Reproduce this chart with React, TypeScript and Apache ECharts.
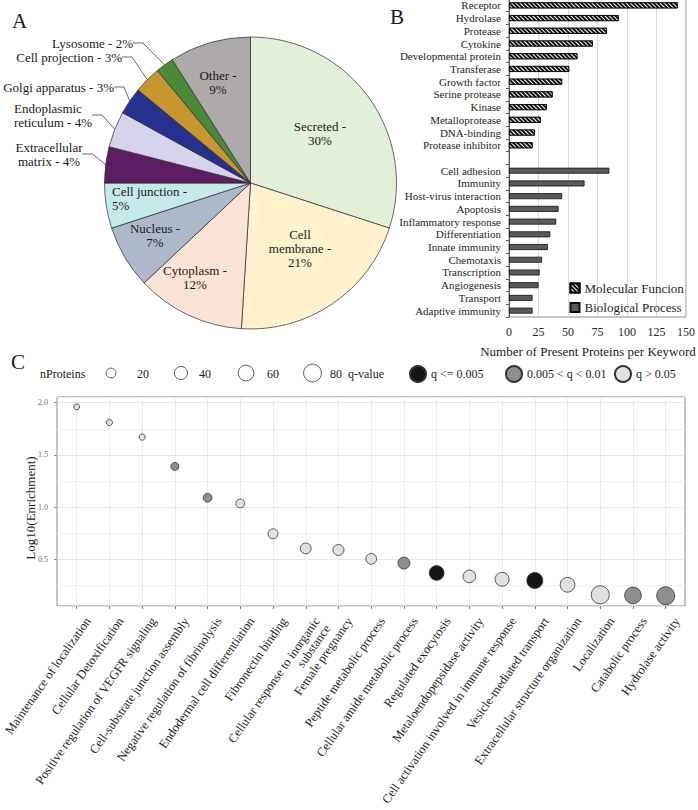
import React, { useEffect, useRef } from "react";
import * as echarts from "echarts";

const SERIF = "Liberation Serif, Times New Roman, serif";

// ---------- Panel A: subcellular location ----------
const LOCATIONS = [
  "Secreted", "Cell membrane", "Cytoplasm", "Nucleus", "Cell junction",
  "Extracellular matrix", "Endoplasmic reticulum", "Golgi apparatus",
  "Cell projection", "Lysosome", "Other",
];
const LOCATION_PCT = [30, 21, 12, 7, 5, 4, 4, 3, 3, 2, 9];
const LOCATION_LABEL = [
  "Secreted -\n{v}%", "Cell\nmembrane -\n{v}%", "Cytoplasm -\n{v}%", "Nucleus -\n{v}%",
  "Cell junction -\n{v}%", "Extracellular\nmatrix - {v}%", "Endoplasmic\nreticulum - {v}%",
  "Golgi apparatus - {v}%", "Cell projection - {v}%", "Lysosome - {v}%", "Other -\n{v}%",
];
const LOCATION_COLORS = [
  "#e2efd9", "#fff2cc", "#fbe4d5", "#adb9ca", "#c6e9ec",
  "#5e1d62", "#d6d3ec", "#26318f", "#c8962e", "#4b8a3b", "#aeaaaa",
];
const LABEL_INSIDE = [true, true, true, true, true, false, false, false, false, false, true];
// label anchor [x, y, align]
const LABEL_ANCHOR: [number, number, string][] = [
  [320, 133, "center"], [300, 248, "center"], [195, 277, "center"], [155, 235, "center"],
  [112, 198, "left"], [49, 154, "center"], [14, 115, "left"], [114, 87, "right"],
  [122, 57, "right"], [133, 43, "right"], [218, 82, "center"],
];

// ---------- Panel B: keywords ----------
const MF_KEYWORDS = [
  "Receptor", "Hydrolase", "Protease", "Cytokine", "Developmental protein", "Transferase",
  "Growth factor", "Serine protease", "Kinase", "Metalloprotease", "DNA-binding", "Protease inhibitor",
];
const MF_COUNTS = [143, 93, 83, 71, 58, 51, 45, 37, 32, 27, 22, 20];
const BP_KEYWORDS = [
  "Cell adhesion", "Immunity", "Host-virus interaction", "Apoptosis", "Inflammatory response",
  "Differentiation", "Innate immunity", "Chemotaxis", "Transcription", "Angiogenesis",
  "Transport", "Adaptive immunity",
];
const BP_COUNTS = [85, 64, 45, 42, 40, 35, 33, 28, 26, 25, 20, 20];

// ---------- Panel C: enrichment ----------
const TERMS = [
  "Maintenance of localization", "Cellular Detoxification", "Positive regulation of VEGFR signaling",
  "Cell-substrate junction assembly", "Negative regulation of fibrinolysis",
  "Endodermal cell differentiation", "Fibronectin binding",
  "Cellular response to inorganic\nsubstance", "Female pregnancy", "Peptide metabolic process",
  "Cellular amide metabolic process", "Regulated exocytosis", "Metaloendopepsidase activity",
  "Cell activation involved in immune response", "Vesicle-mediated transport",
  "Extracellular structure organization", "Localization", "Catabolic process", "Hydrolase activity",
];
const LOG10_ENRICHMENT = [1.96, 1.81, 1.67, 1.39, 1.09, 1.035, 0.745, 0.605, 0.59, 0.505, 0.465, 0.37, 0.337, 0.31, 0.298, 0.257, 0.161, 0.155, 0.152];
const N_PROTEINS = [5, 6, 6, 12, 15, 15, 21, 25, 26, 25, 32, 52, 37, 46, 63, 52, 82, 69, 82];
const Q_CLASS = [2, 2, 2, 1, 1, 2, 2, 2, 2, 2, 1, 0, 2, 2, 0, 2, 2, 1, 1];
const Q_LABELS = ["q <= 0.005", "0.005 < q < 0.01", "q > 0.05"];
const Q_COLORS = ["#151515", "#8e8e8e", "#e1e1e1"];
const SIZE_BREAKS = [20, 40, 60, 80];
const MINOR_GRID = [0.25, 0.75, 1.25, 1.75];

const sizeOf = (n: number) => 1.8 + 1.79 * Math.sqrt(n);

function buildOption() {
  const pieData = LOCATIONS.map((name, i) => ({
    name,
    value: LOCATION_PCT[i],
    itemStyle: { color: LOCATION_COLORS[i] },
    label: { position: LABEL_INSIDE[i] ? "inside" : "outside" },
    labelLine: { show: !LABEL_INSIDE[i] },
  }));

  const categoriesB = [...MF_KEYWORDS, "", ...BP_KEYWORDS];
  const blanks = (n: number) => new Array(n).fill(null);
  const mfData = [...MF_COUNTS, ...blanks(1 + BP_COUNTS.length)];
  const bpData = [...blanks(MF_COUNTS.length + 1), ...BP_COUNTS];

  const sizeLegendX = [111, 181, 246, 312.5];
  const sizeLabelX = [137, 199, 267, 330];
  const qLegendLeft = [409, 505, 614];

  const txt = (text: string, x: number, y: number, fontSize: number, extra: any = {}) => ({
    type: "text", x, y, ...extra,
    style: { text, fontSize, fontFamily: SERIF, fill: "#1a1a1a", verticalAlign: "middle", ...(extra.style || {}) },
  });

  const graphic: any[] = [
    txt("A", 12, 21, 21),
    txt("B", 390, 17, 21),
    txt("C", 11, 362, 21),
    txt("Number of Present Proteins per Keyword", 588, 351, 13, { style: { align: "center" } }),
    txt("Log10(Enrichment)", 30, 508, 13, { rotation: Math.PI / 2, style: { align: "center" } }),
    txt("nProteins", 40, 374, 12),
    txt("q-value", 348, 374, 12),
  ];
  SIZE_BREAKS.forEach((n, i) => {
    graphic.push({ type: "circle", shape: { cx: sizeLegendX[i], cy: 373, r: sizeOf(n) / 2 }, style: { fill: "#fff", stroke: "#333", lineWidth: 0.8 } });
    graphic.push(txt(String(n), sizeLabelX[i], 374, 12));
  });

  const scatterSeries = Q_LABELS.map((label, q) => ({
    type: "scatter",
    name: label,
    xAxisIndex: 2,
    yAxisIndex: 2,
    symbol: "circle",
    symbolSize: (v: number[]) => sizeOf(v[2]),
    itemStyle: { color: Q_COLORS[q], borderColor: "#333", borderWidth: 0.8, opacity: 1 },
    data: TERMS.map((t, i) => (Q_CLASS[i] === q ? [i, LOG10_ENRICHMENT[i], N_PROTEINS[i]] : null)).filter((d) => d !== null),
    z: 5,
  }));

  const noBounds = { outerBoundsMode: "none", containLabel: false };

  return {
    animation: false,
    backgroundColor: "#fff",
    textStyle: { fontFamily: SERIF },
    grid: [
      { left: 509, right: 12, top: -1, height: 318, show: true, borderColor: "#8c8c8c", borderWidth: 1, ...noBounds },
      { left: 57, right: 13, top: 397, height: 209, show: true, borderColor: "#8a8a8a", borderWidth: 1, ...noBounds },
      { left: 76.7, right: 32.3, top: 397, height: 209, ...noBounds },
      // label carrier for the rotated term names (shifted as ggplot's hjust/vjust does)
      { left: 82.7, right: 26.3, top: 397, height: 209, ...noBounds },
    ],
    xAxis: [
      {
        type: "value", gridIndex: 0, min: 0, max: 150, interval: 25,
        axisLine: { show: false }, axisTick: { show: false },
        axisLabel: { fontSize: 12, color: "#262626", margin: 9, fontFamily: SERIF },
        splitLine: { show: true, lineStyle: { color: "#d9d9d9", width: 1 } },
      },
      { type: "value", gridIndex: 1, min: 0, max: 1, show: false },
      {
        type: "category", gridIndex: 2, data: TERMS, boundaryGap: false,
        axisLine: { show: false },
        axisTick: { show: true, length: 3, lineStyle: { color: "#7a7a7a" }, interval: 0 },
        axisLabel: { show: false },
        splitLine: { show: true, interval: 0, lineStyle: { color: "#ebebeb", width: 1 } },
      },
      {
        type: "category", gridIndex: 3, data: TERMS, boundaryGap: false,
        axisLine: { show: false }, axisTick: { show: false }, splitLine: { show: false },
        axisLabel: {
          interval: 0, rotate: 55, align: "right", verticalAlign: "top", margin: 9,
          fontSize: 12.5, lineHeight: 13, color: "#1e1e1e", fontFamily: SERIF,
        },
      },
    ],
    yAxis: [
      {
        type: "category", gridIndex: 0, data: categoriesB, inverse: true,
        axisLine: { show: true, lineStyle: { color: "#595959", width: 1 } },
        axisTick: { show: true, length: 3, lineStyle: { color: "#595959" } },
        axisLabel: { fontSize: 11, color: "#1e1e1e", margin: 8, interval: 0, fontFamily: SERIF },
        splitLine: { show: false },
      },
      {
        type: "value", gridIndex: 1, min: 0.054, max: 2.054, splitNumber: 4,
        axisLine: { show: false },
        axisTick: { show: true, length: 3, lineStyle: { color: "#8a8a8a" } },
        axisLabel: {
          fontSize: 8, color: "#6b6b6b", margin: 9, showMinLabel: false, showMaxLabel: false,
          formatter: (v: number) => v.toFixed(1), fontFamily: SERIF,
        },
        splitLine: { show: true, lineStyle: { color: "#e6e6e6", width: 1 } },
      },
      { type: "value", gridIndex: 2, min: 0.054, max: 2.054, show: false },
      { type: "value", gridIndex: 3, min: 0, max: 1, show: false },
    ],
    legend: [
      {
        data: ["Molecular Funcion", "Biological Process"],
        orient: "vertical", left: 569.5, top: 281.5, padding: 0, itemWidth: 9, itemHeight: 9, itemGap: 6.5,
        icon: "rect", selectedMode: false,
        textStyle: { fontSize: 13, color: "#1e1e1e", fontFamily: SERIF },
      },
      ...Q_LABELS.map((label, q) => ({
        data: [label], left: qLegendLeft[q], top: 365, padding: 0, itemWidth: 16, itemHeight: 16,
        icon: "circle", selectedMode: false,
        textStyle: { fontSize: 12, color: "#1e1e1e", fontFamily: SERIF },
      })),
    ],
    graphic,
    series: [
      {
        type: "pie",
        center: [250.5, 183],
        radius: 146,
        startAngle: 90,
        clockwise: true,
        avoidLabelOverlap: false,
        itemStyle: { borderColor: "#2a2a2a", borderWidth: 0.7 },
        label: {
          fontSize: 13, lineHeight: 14, color: "#1a1a1a", fontFamily: SERIF,
          formatter: (p: any) => LOCATION_LABEL[p.dataIndex].replace("{v}", String(p.value)),
        },
        labelLine: { length: 10, length2: 10, lineStyle: { color: "#444", width: 0.8 } },
        labelLayout: (params: any) => {
          const a = LABEL_ANCHOR[params.dataIndex];
          return { x: a[0], y: a[1], align: a[2], verticalAlign: "middle" };
        },
        data: pieData,
      },
      {
        type: "bar", name: "Molecular Funcion", xAxisIndex: 0, yAxisIndex: 0,
        data: mfData, barWidth: 6, barGap: "-100%",
        itemStyle: {
          color: "#111", borderColor: "#000", borderWidth: 0.8,
          decal: { symbol: "rect", color: "#ffffff", dashArrayX: [1, 0], dashArrayY: [1, 2], rotation: Math.PI / 4, symbolSize: 1 },
        },
      },
      {
        type: "bar", name: "Biological Process", xAxisIndex: 0, yAxisIndex: 0,
        data: bpData, barWidth: 6, barGap: "-100%",
        itemStyle: { color: "#5a5a5a", borderColor: "#111", borderWidth: 0.8 },
      },
      {
        type: "line", name: "minor-grid", xAxisIndex: 1, yAxisIndex: 1, data: [],
        markLine: {
          silent: true, symbol: "none", label: { show: false },
          lineStyle: { color: "#f1f1f1", type: "solid", width: 1 },
          data: MINOR_GRID.map((v) => ({ yAxis: v })),
        },
        z: 1,
      },
      ...scatterSeries,
    ],
  };
}

export default function App() {
  const ref = useRef<HTMLDivElement>(null);
  useEffect(() => {
    if (!ref.current) return;
    const chart = echarts.init(ref.current, null, { renderer: "svg" });
    chart.setOption(buildOption() as any);
    return () => chart.dispose();
  }, []);
  return (
    <div
      ref={ref}
      style={{ position: "fixed", left: 0, top: 0, width: 698, height: 810, background: "#fff" }}
    />
  );
}
